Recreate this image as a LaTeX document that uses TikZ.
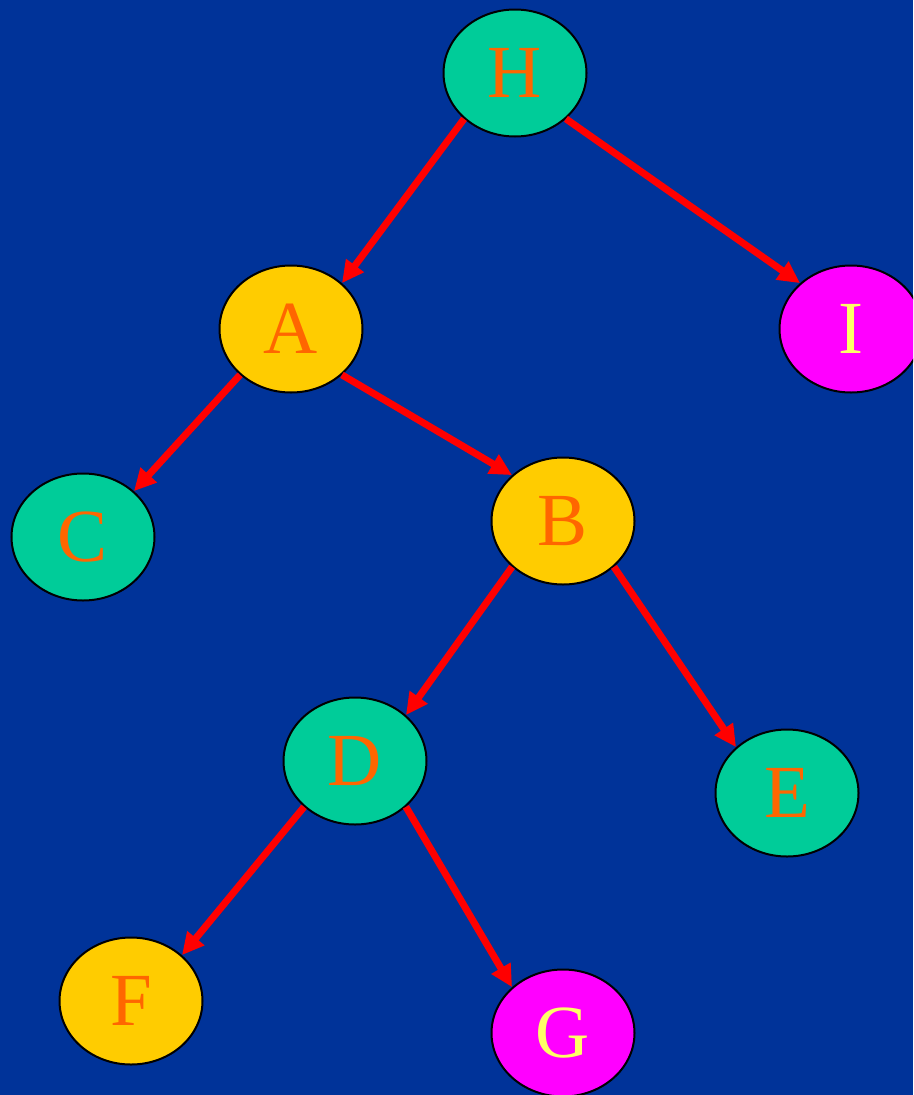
\documentclass[tikz,border=0pt]{standalone}
\usepackage{fontspec}
\setmainfont{Liberation Serif}
\usetikzlibrary{arrows.meta,shapes.geometric}
\definecolor{slideblue}{HTML}{003399}
\definecolor{nodeteal}{HTML}{00CC99}
\definecolor{nodegold}{HTML}{FFCC00}
\definecolor{nodepink}{HTML}{FF00FF}
\definecolor{textorange}{HTML}{FF6600}
\definecolor{textyellow}{HTML}{FFFF66}
\begin{document}
\begin{tikzpicture}
      [x=1pt,y=-1pt,
       treenode/.style={ellipse,draw=black,line width=2pt,inner sep=0pt,
         minimum width=143pt,minimum height=127pt,
         font=\fontsize{75}{80}\selectfont},
       tealnode/.style={treenode,fill=nodeteal,text=textorange},
       goldnode/.style={treenode,fill=nodegold,text=textorange},
       pinknode/.style={treenode,fill=nodepink,text=textyellow},
       edge/.style={draw=red,line width=7pt,-{Triangle[length=22pt,width=21pt]}}]
      \clip (0,0) rectangle (913,1095);
      \fill [slideblue] (0,0) rectangle (913,1095);
      \node at (515,73) (H) [tealnode] {H};
      \node at (291,329) (A) [goldnode] {A};
      \node at (851,329) (I) [pinknode] {I};
      \node at (83,537) (C) [tealnode] {C};
      \node at (563,521) (B) [goldnode] {B};
      \node at (355,761) (D) [tealnode] {D};
      \node at (787,793) (E) [tealnode] {E};
      \node at (131,1001) (F) [goldnode] {F};
      \node at (563,1033) (G) [pinknode] {G};
      \foreach \p/\c in {H/A,A/C,B/D,D/F}
         \draw [edge] (\p.222) -- (\c.42);
      \foreach \p/\c in {H/I,A/B,B/E,D/G}
         \draw [edge] (\p.318) -- (\c.138);
    \end{tikzpicture}
\end{document}
